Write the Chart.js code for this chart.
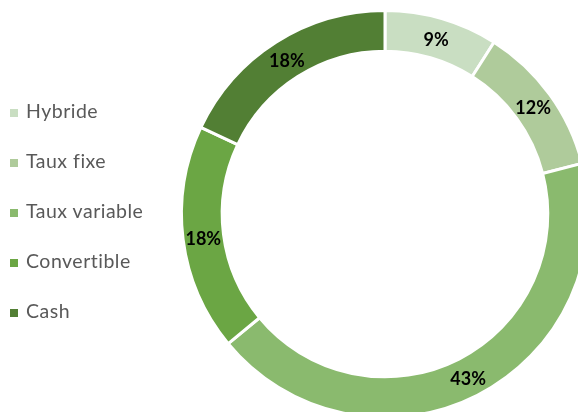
<!DOCTYPE html>
<html>
<head>
<meta charset="utf-8">
<script src="https://cdn.jsdelivr.net/npm/chart.js@4"></script>
<style>
  html, body { margin: 0; padding: 0; background: #fff; overflow: hidden; width: 578px; height: 412px; }
  #wrap { position: absolute; left: 0; top: 0; width: 600px; height: 430px; }
  #legend { position: absolute; left: 10px; top: 98px; font-family: Lato, "Liberation Sans", sans-serif; font-size: 19.5px; letter-spacing: 0.5px; color: #595959; }
  #legend div { height: 50px; line-height: 25px; white-space: nowrap; }
  #legend span.box { display: inline-block; width: 8px; height: 8px; margin-right: 8px; vertical-align: 1px; }
</style>
</head>
<body>
<div id="wrap"><canvas id="donut" width="600" height="430"></canvas></div>
<div id="legend"></div>
<script>
const labels = ['Hybride', 'Taux fixe', 'Taux variable', 'Convertible', 'Cash'];
const values = [9, 12, 43, 18, 18];
const colors = ['#c9dec2', '#afcb9b', '#8aba6e', '#6ba644', '#527f34'];

const legendEl = document.getElementById('legend');
labels.forEach((l, i) => {
  const row = document.createElement('div');
  row.innerHTML = '<span class="box" style="background:' + colors[i] + '"></span>' + l;
  legendEl.appendChild(row);
});

// percentage labels on the ring
const pctLabels = {
  id: 'pctLabels',
  afterDatasetsDraw(chart) {
    const ctx = chart.ctx;
    const meta = chart.getDatasetMeta(0);
    ctx.save();
    ctx.font = 'bold 18px Lato, "Liberation Sans", sans-serif';
    ctx.fillStyle = '#000';
    ctx.textAlign = 'center';
    ctx.textBaseline = 'middle';
    meta.data.forEach((arc, i) => {
      const p = arc.tooltipPosition();
      ctx.fillText(values[i] + '%', p.x, p.y + 2);
    });
    ctx.restore();
  }
};

new Chart(document.getElementById('donut'), {
  type: 'doughnut',
  data: {
    labels: labels,
    datasets: [{
      data: values,
      backgroundColor: colors,
      borderColor: '#ffffff',
      borderWidth: 3,
    }]
  },
  options: {
    responsive: false,
    animation: false,
    cutout: '80%',
    layout: { padding: { left: 180, top: 9, right: 10, bottom: 11 } },
    plugins: { legend: { display: false }, tooltip: { enabled: false } }
  },
  plugins: [pctLabels]
});
</script>
</body>
</html>
